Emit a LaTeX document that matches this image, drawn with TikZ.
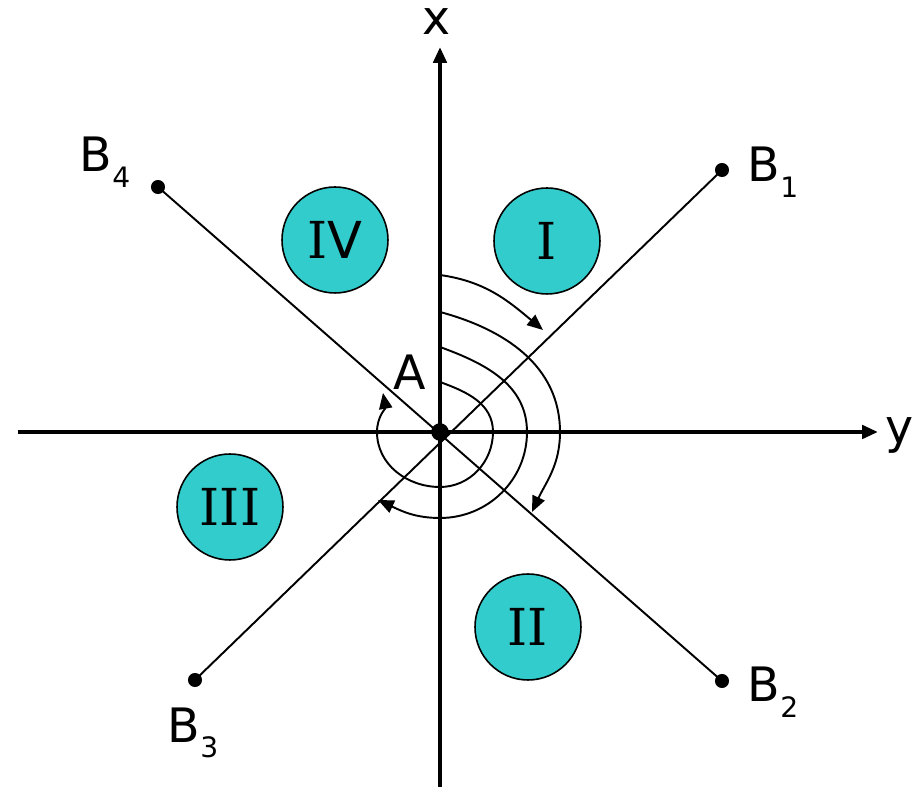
\documentclass[tikz,border=0pt]{standalone}
\usepackage{fontspec}
\setmainfont{DejaVu Sans}
\newfontfamily\numfont{DejaVu Serif}
\usetikzlibrary{arrows.meta}

\definecolor{zonecyan}{HTML}{33CCCC}
\newcommand{\lowidx}[1]{\raisebox{-9pt}{\fontsize{16}{16}\selectfont #1}}

\begin{document}
\begin{tikzpicture}[x=0.02cm, y=0.02cm,
    axis/.style={line width=2.3pt, -{Triangle[length=9pt, width=7.5pt]}},
    ray/.style={line width=1.1pt},
    swirl/.style={line width=1.1pt, -{Triangle[length=9pt, width=7.5pt]}},
    zone/.style={circle, draw, line width=0.9pt, fill=zonecyan, inner sep=0pt,
        minimum size=2.12cm, font=\fontsize{29}{30}\selectfont},
    dot/.style={circle, fill=black, inner sep=0pt, minimum size=8pt},
    lbl/.style={font=\fontsize{27}{30}\selectfont, inner sep=0pt}]
    \useasboundingbox (-440,-355) rectangle (484,432);
    % Axes
    \coordinate (west) at (-422,0);
    \coordinate (east) at (438,0);
    \coordinate (south) at (0,-355);
    \coordinate (north) at (0,385);
    \draw[axis] (west) -- (east);
    \draw[axis] (south) -- (north);
    \node[lbl] (xlab) at (-3,410) {x};
    \node[lbl] (ylab) at (460,-3) {y};
    % End points B
    \node[dot] (b1) at (282,262) {};
    \node[dot] (b2) at (282,-249) {};
    \node[dot] (b3) at (-245,-248) {};
    \node[dot] (b4) at (-282,245) {};
    \draw[ray] (b4.center) -- (b2.center);
    \draw[ray] (b3.center) -- (b1.center);
    \node[lbl] (b1lab) at (333,260) {B\lowidx{1}};
    \node[lbl] (b2lab) at (333,-260) {B\lowidx{2}};
    \node[lbl] (b3lab) at (-247,-301) {B\lowidx{3}};
    \node[lbl] (b4lab) at (-335,270) {B\lowidx{4}};
    % Centre A
    \node[dot, minimum size=10pt] (a) at (0,0) {};
    \node[lbl] (alab) at (-30,60) {A};
    % Zones
    \node[zone] (z1) at (107,191) {{\numfont I}};
    \node[zone] (z2) at (88,-195) {{\numfont II}};
    \node[zone] (z3) at (-210,-75) {{\numfont III}};
    \node[zone] (z4) at (-105,192) {{\numfont I}V};
    % Swirls
    \draw[swirl] (0,157) to[out=-8, in=140] (103,102);
    \draw[swirl] (0,120) to[out=-15, in=90] (120,0) to[out=-90, in=65] (92,-80);
    \draw[swirl] (0,85) to[out=-20, in=90] (87,0) to[out=-90, in=0] (0,-86)
        to[out=180, in=-25] (-62,-68);
    \draw[swirl] (0,50) to[out=-20, in=90] (53,0) to[out=-90, in=0] (0,-55)
        to[out=180, in=-90] (-63,0) to[out=90, in=-80] (-57,39);
\end{tikzpicture}
\end{document}
